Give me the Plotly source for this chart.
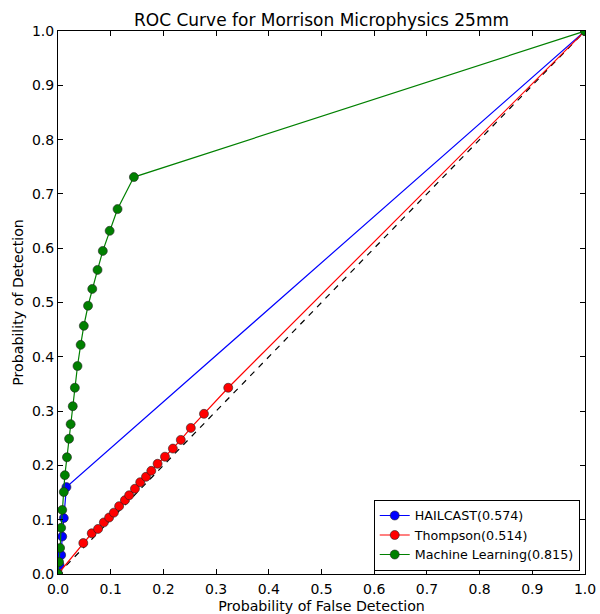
import plotly.graph_objects as go

# HAILCAST
hail_x = [0.0, 0.003, 0.006, 0.008, 0.011, 0.016, 1.0]
hail_y = [0.0, 0.016, 0.035, 0.069, 0.103, 0.160, 1.0]

# Thompson
thom_x = [0.0, 0.048, 0.064, 0.076, 0.087, 0.097, 0.106, 0.116, 0.127, 0.135, 0.146,
          0.156, 0.167, 0.177, 0.189, 0.203, 0.218, 0.233, 0.252, 0.277, 0.323, 1.0]
thom_y = [0.0, 0.057, 0.075, 0.083, 0.095, 0.104, 0.113, 0.125, 0.136, 0.145, 0.157,
          0.169, 0.179, 0.190, 0.203, 0.216, 0.231, 0.247, 0.269, 0.295, 0.343, 1.0]

# Machine Learning
ml_x = [0.0, 0.002, 0.004, 0.006, 0.008, 0.011, 0.013, 0.017, 0.021, 0.024, 0.028, 0.032,
        0.037, 0.043, 0.049, 0.057, 0.065, 0.075, 0.085, 0.098, 0.113, 0.144, 1.0]
ml_y = [0.0, 0.022, 0.048, 0.085, 0.118, 0.151, 0.182, 0.215, 0.249, 0.276, 0.309, 0.343,
        0.383, 0.422, 0.457, 0.494, 0.525, 0.560, 0.595, 0.632, 0.672, 0.731, 1.0]

diag = [0.0, 1.0]
tick_vals = [0.0, 0.1, 0.2, 0.3, 0.4, 0.5, 0.6, 0.7, 0.8, 0.9, 1.0]
tick_text = ["0.0", "0.1", "0.2", "0.3", "0.4", "0.5", "0.6", "0.7", "0.8", "0.9", "1.0"]

marker_line = dict(color="#222222", width=0.6)

fig = go.Figure()
fig.add_trace(go.Scatter(x=diag, y=diag, mode="lines", showlegend=False,
                         line=dict(color="black", dash="6px,6px", width=1.2)))
fig.add_trace(go.Scatter(x=hail_x, y=hail_y, mode="lines+markers", name="HAILCAST(0.574)",
                         line=dict(color="#0000ff", width=1.2),
                         marker=dict(color="#0000ff", size=9, line=marker_line)))
fig.add_trace(go.Scatter(x=thom_x, y=thom_y, mode="lines+markers", name="Thompson(0.514)",
                         line=dict(color="#ff0000", width=1.2),
                         marker=dict(color="#ff0000", size=9, line=marker_line)))
fig.add_trace(go.Scatter(x=ml_x, y=ml_y, mode="lines+markers", name="Machine Learning(0.815)",
                         line=dict(color="#008000", width=1.2),
                         marker=dict(color="#008000", size=9, line=marker_line)))

axis_common = dict(range=[0, 1], showgrid=False, zeroline=False, showline=True,
                   linecolor="black", linewidth=1, mirror="ticks", ticks="inside",
                   ticklen=5, tickcolor="black", tickvals=tick_vals, ticktext=tick_text,
                   tickfont=dict(size=14, color="black"), automargin=False)

fig.update_layout(
    width=600, height=614,
    margin=dict(l=58, r=15, t=31, b=40),
    paper_bgcolor="white", plot_bgcolor="white",
    font=dict(family="DejaVu Sans", color="black"),
    title=dict(text="ROC Curve for Morrison Microphysics 25mm", x=0.5, xref="paper",
               y=1, yref="paper", yanchor="bottom", pad=dict(b=5),
               font=dict(size=17, color="black")),
    xaxis=dict(title=dict(text="Probability of False Detection", font=dict(size=14.2), standoff=5),
               ticklabelstandoff=2, **axis_common),
    yaxis=dict(title=dict(text="Probability of Detection", font=dict(size=14.2), standoff=4),
               **axis_common),
    legend=dict(x=0.99, xanchor="right", y=0.006, yanchor="bottom",
                bordercolor="black", borderwidth=1, bgcolor="white",
                font=dict(size=12.7, color="black"), tracegroupgap=0),
)

fig.write_html("out.html")
